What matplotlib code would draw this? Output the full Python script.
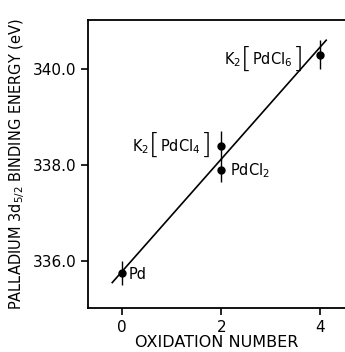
import matplotlib
matplotlib.use("Agg")
import matplotlib.pyplot as plt
from matplotlib.offsetbox import TextArea, HPacker, AnnotationBbox

# oxidation number vs Pd 3d5/2 binding energy
ox = [0, 2, 2, 4]
energy = [335.75, 338.4, 337.9, 340.3]
err = [0.25, 0.3, 0.25, 0.3]

# labels: (prefix, bracketed part) -- bracketed part None means plain label
label_pre = ['Pd', r'K$_2$', r'PdCl$_2$', r'K$_2$']
label_in = [None, r'PdCl$_4$', None, r'PdCl$_6$']
label_x = [0.13, 1.80, 2.18, 3.66]
label_y = [335.72, 338.39, 337.88, 340.2]
label_side = ['left', 'right', 'left', 'right']

fit_x = [-0.2, 4.12]
fit_y = [335.55, 340.6]

xticks = [0, 2, 4]
yticks = [336.0, 338.0, 340.0]

plt.rcParams['font.family'] = 'DejaVu Sans'
plt.rcParams['mathtext.default'] = 'regular'

fig = plt.figure(figsize=(3.45, 3.52), dpi=100)
ax = fig.add_axes([0.255, 0.125, 0.745, 0.818])

ax.plot(fit_x, fit_y, color='black', lw=1.2)
ax.errorbar(ox, energy, yerr=err, fmt='o', color='black', ms=5, elinewidth=1, capsize=0)

fs = 10.5
for i in range(len(label_pre)):
    if label_in[i] is None:
        ax.text(label_x[i], label_y[i], label_pre[i], ha=label_side[i], va='center', fontsize=fs)
        continue
    br = dict(fontsize=20, fontweight='light', family='DejaVu Sans')
    parts = [TextArea(label_pre[i], textprops=dict(fontsize=fs)),
             TextArea('[', textprops=br),
             TextArea(label_in[i], textprops=dict(fontsize=fs)),
             TextArea(']', textprops=br)]
    pack = HPacker(children=parts, align='center', pad=0, sep=0)
    ab = AnnotationBbox(pack, (label_x[i], label_y[i]), box_alignment=(1, 0.5),
                        frameon=False, pad=0)
    ax.add_artist(ab)

ax.set_xlim(-0.69, 4.5)
ax.set_ylim(335.02, 341.02)
ax.set_xticks(xticks)
ax.set_xticklabels([str(t) for t in xticks])
ax.set_yticks(yticks)
ax.set_yticklabels(['%.1f' % t for t in yticks])
ax.spines['right'].set_visible(False)
for s in ['left', 'bottom', 'top']:
    ax.spines[s].set_linewidth(1.3)
ax.tick_params(direction='out', length=5, width=1.2, labelsize=11)

ax.set_xlabel('OXIDATION NUMBER', fontsize=11.5, labelpad=0)
ax.set_ylabel(r'PALLADIUM 3d$_{5/2}$ BINDING ENERGY (eV)', fontsize=10.5, labelpad=4)

fig.savefig('out.png', dpi=100)
